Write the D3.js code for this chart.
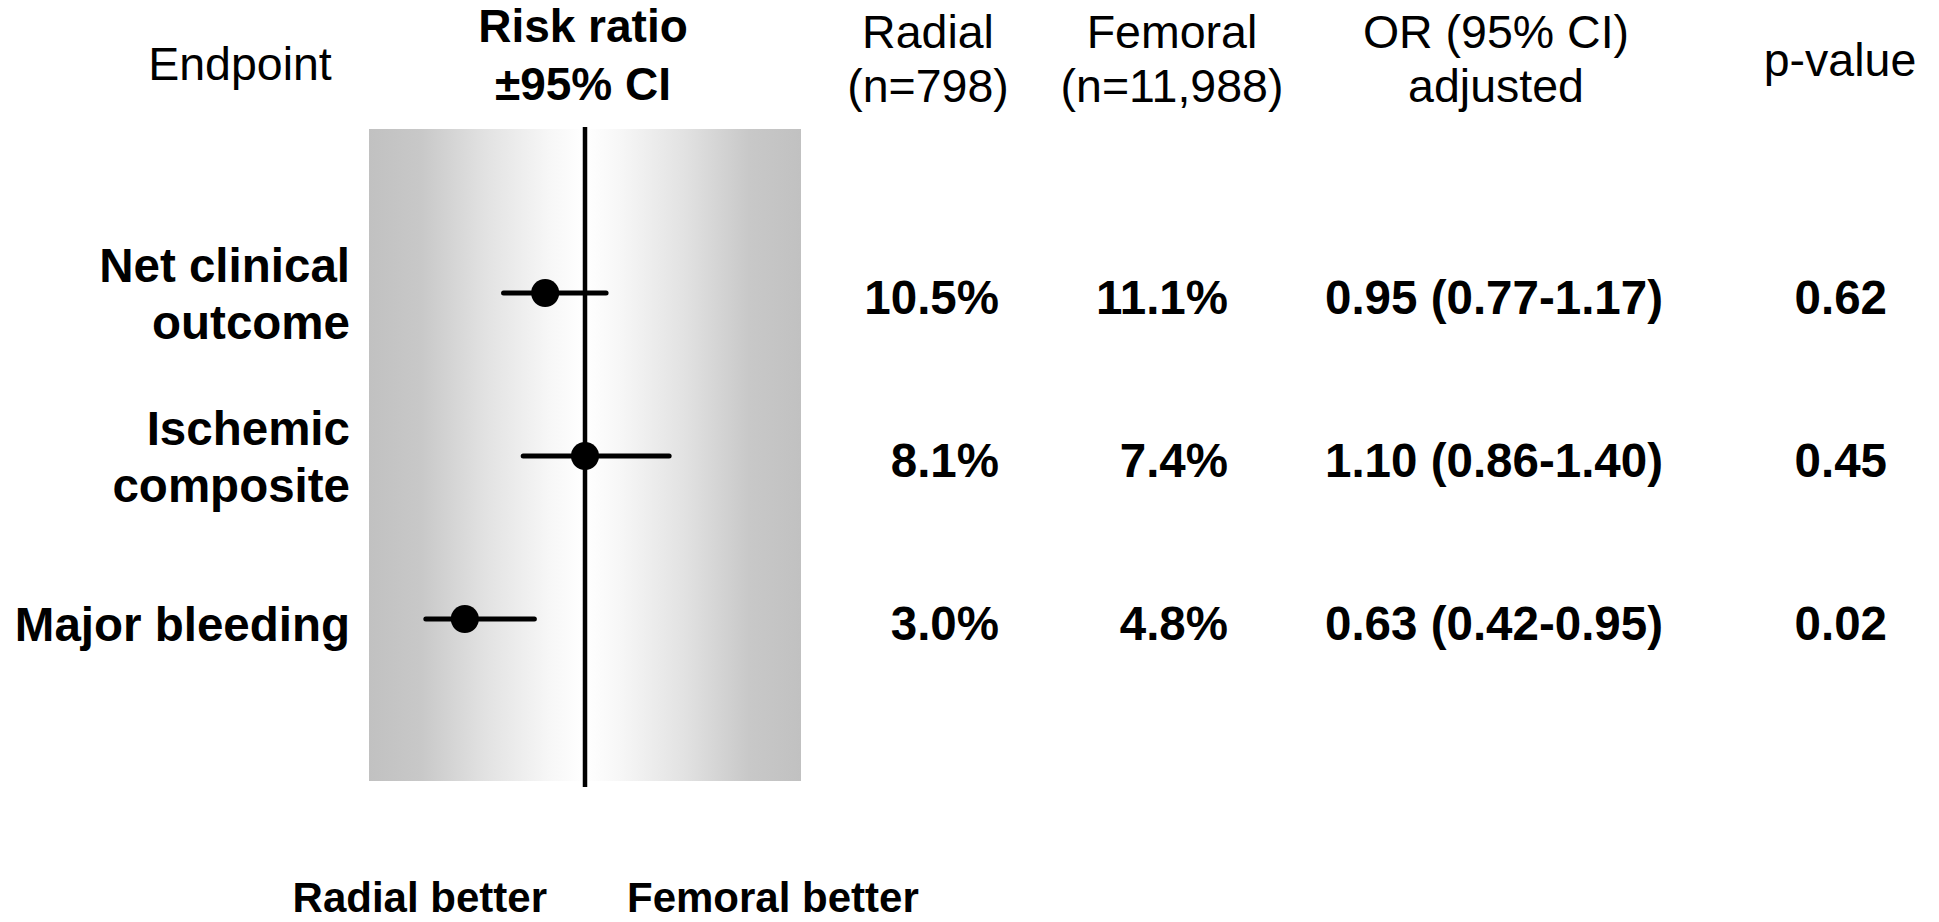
<!DOCTYPE html>
<html>
<head>
<meta charset="utf-8">
<script src="https://cdn.jsdelivr.net/npm/d3@7"></script>
<style>
  html, body { margin: 0; padding: 0; background: #ffffff; }
  svg { display: block; }
  text { font-family: "Liberation Sans", Arial, Helvetica, sans-serif; fill: #000; }
</style>
</head>
<body>
<svg id="chart" width="1939" height="922"></svg>
<script>
// Endpoints (one array of lines per row label)
const endpoints = [["Net clinical", "outcome"], ["Ischemic", "composite"], ["Major bleeding"]];

// Risk ratio point estimates and 95% CI bounds plotted in the forest panel
const riskRatio = [0.88, 1.00, 0.68];
const ciLow     = [0.77, 0.82, 0.60];
const ciHigh    = [1.07, 1.31, 0.85];

// Event rates (%) by access site
const radialRate  = [10.5, 8.1, 3.0];
const femoralRate = [11.1, 7.4, 4.8];

// Adjusted odds ratios with 95% CI, and p-values
const orEstimate = [0.95, 1.10, 0.63];
const orLow      = [0.77, 0.86, 0.42];
const orHigh     = [1.17, 1.40, 0.95];
const pValues    = [0.62, 0.45, 0.02];

// Column headings
const headEndpoint = ["Endpoint"];
const headRisk     = ["Risk ratio", "\u00B195% CI"];
const headRadial   = ["Radial", "(n=798)"];
const headFemoral  = ["Femoral", "(n=11,988)"];
const headOR       = ["OR (95% CI)", "adjusted"];
const headP        = ["p-value"];
const favourLabels = ["Radial better", "Femoral better"];

const svg = d3.select("#chart");

// Forest panel geometry
const panel = { left: 369, right: 801, top: 129, bottom: 781 };
const x = d3.scaleLog().domain([0.5, 2]).range([panel.left, panel.right]);
const y = d3.scalePoint().domain(d3.range(endpoints.length)).range([293, 619]);

// Shaded background: grey at both edges fading to white at the line of no effect
const defs = svg.append("defs");
const grad = defs.append("linearGradient").attr("id", "panelShade")
  .attr("x1", "0%").attr("x2", "100%").attr("y1", "0%").attr("y2", "0%");
[[0, "#c1c1c1"], [0.12, "#c8c8c8"], [0.27, "#e2e2e2"], [0.42, "#f7f7f7"], [0.5, "#ffffff"],
 [0.58, "#f7f7f7"], [0.73, "#e2e2e2"], [0.88, "#c8c8c8"], [1, "#c1c1c1"]]
  .forEach(([o, c]) => grad.append("stop").attr("offset", o).attr("stop-color", c));

svg.append("rect")
  .attr("x", panel.left).attr("y", panel.top)
  .attr("width", panel.right - panel.left).attr("height", panel.bottom - panel.top)
  .attr("fill", "url(#panelShade)");

// Line of no effect
svg.append("line")
  .attr("x1", x(1)).attr("x2", x(1))
  .attr("y1", 127).attr("y2", 787)
  .attr("stroke", "#000").attr("stroke-width", 4.5);

// Confidence intervals
svg.selectAll("line.ci").data(riskRatio).join("line")
  .attr("class", "ci")
  .attr("x1", (d, i) => x(ciLow[i])).attr("x2", (d, i) => x(ciHigh[i]))
  .attr("y1", (d, i) => y(i)).attr("y2", (d, i) => y(i))
  .attr("stroke", "#000").attr("stroke-width", 5).attr("stroke-linecap", "round");

// Point estimates
svg.selectAll("circle.pt").data(riskRatio).join("circle")
  .attr("class", "pt")
  .attr("cx", d => x(d)).attr("cy", (d, i) => y(i))
  .attr("r", 14).attr("fill", "#000");

// Helper for multi-line text
function lines(sel, arr, lineHeight) {
  arr.forEach((t, k) => sel.append("tspan").attr("x", sel.attr("x")).attr("dy", k === 0 ? 0 : lineHeight).text(t));
}

// Headings
const headFont = 46.5;
function heading(arr, cx, baseline, bold) {
  const t = svg.append("text")
    .attr("x", cx).attr("y", baseline)
    .attr("text-anchor", "middle")
    .attr("font-size", bold ? 46 : headFont)
    .attr("font-weight", bold ? "bold" : "normal");
  lines(t, arr, bold ? 58 : 54);
}
heading(headEndpoint, 240, 80, false);
heading(headRisk, 583, 42, true);
heading(headRadial, 928, 48, false);
heading(headFemoral, 1172, 48, false);
heading(headOR, 1496, 48, false);
heading(headP, 1840, 76, false);

// Row labels (right aligned, vertically centred on each row)
const rowFont = 47.5;
endpoints.forEach((arr, i) => {
  const first = arr.length === 1 ? y(i) + 22 : y(i) - 11;
  const t = svg.append("text")
    .attr("x", 350).attr("y", first)
    .attr("text-anchor", "end")
    .attr("font-size", rowFont).attr("font-weight", "bold");
  lines(t, arr, 57);
});

// Table columns
const pct = d => d.toFixed(1) + "%";
const f2 = d => d.toFixed(2);
function column(values, fmt, xpos, anchor) {
  svg.append("g").selectAll("text").data(values).join("text")
    .attr("x", xpos).attr("y", (d, i) => y(i) + 21)
    .attr("text-anchor", anchor)
    .attr("font-size", rowFont).attr("font-weight", "bold")
    .text(fmt);
}
column(radialRate, pct, 999, "end");
column(femoralRate, pct, 1228, "end");
column(orEstimate, (d, i) => `${f2(d)} (${f2(orLow[i])}-${f2(orHigh[i])})`, 1325, "start");
column(pValues, f2, 1887, "end");

// Direction labels beneath the panel
svg.append("text")
  .attr("x", 547).attr("y", 912).attr("text-anchor", "end")
  .attr("font-size", 42).attr("font-weight", "bold").text(favourLabels[0]);
svg.append("text")
  .attr("x", 627).attr("y", 912).attr("text-anchor", "start")
  .attr("font-size", 42).attr("font-weight", "bold").text(favourLabels[1]);
</script>
</body>
</html>
